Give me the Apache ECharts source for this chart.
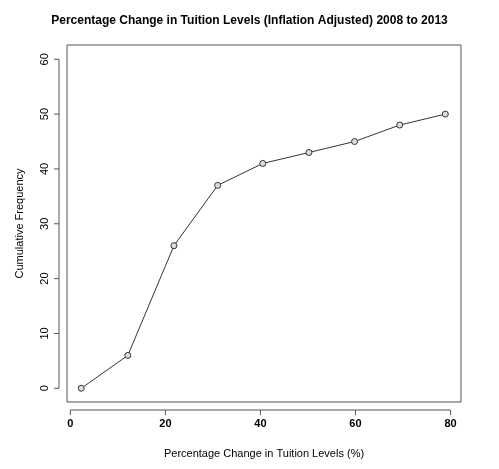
<!DOCTYPE html><html><head><meta charset="utf-8"><script src="https://cdn.jsdelivr.net/npm/echarts@6/dist/echarts.min.js"></script></head><body style="margin:0;background:#fff"><div id="c" style="width:499px;height:469px"></div><script>
const xVals=[2.3,12.1,21.8,31,40.5,50.2,59.8,69.3,78.9];
const yVals=[0,6,26,37,41,43,45,48,50];
const xTicks=[0,20,40,60,80];
const yTicks=[0,10,20,30,40,50,60];
const F='Liberation Sans, Arial, sans-serif';
const chart=echarts.init(document.getElementById('c'));
chart.setOption({animation:false,
title:{text:'Percentage Change in Tuition Levels (Inflation Adjusted) 2008 to 2013',left:'center',top:10,textStyle:{fontFamily:F,fontSize:12,fontWeight:'bold',color:'#000'}},
grid:{left:67,right:38,top:45,bottom:67,show:true,borderColor:'#555',borderWidth:1},
xAxis:{type:'value',min:-0.7,max:82.2,name:'Percentage Change in Tuition Levels (%)',nameLocation:'middle',nameGap:46,nameTextStyle:{fontFamily:F,fontSize:11,color:'#000'},
 axisLine:{show:false},splitLine:{show:false},axisTick:{show:false},axisLabel:{show:false}},
yAxis:{type:'value',min:-2.5,max:62.6,name:'Cumulative Frequency',nameLocation:'middle',nameGap:42,nameTextStyle:{fontFamily:F,fontSize:11,color:'#000'},
 axisLine:{show:false},splitLine:{show:false},axisTick:{show:false},axisLabel:{show:false}},
series:[{type:'line',data:xVals.map((x,i)=>[x,yVals[i]]),symbol:'circle',symbolSize:6,showSymbol:true,
 lineStyle:{color:'#333',width:1},itemStyle:{color:'#ddd',borderColor:'#333',borderWidth:1}}]});
const g=[];const ln=(x1,y1,x2,y2)=>g.push({type:'line',shape:{x1,y1,x2,y2},style:{stroke:'#555',lineWidth:1}});
const bY=402,lX=67;
const xp=xTicks.map(t=>chart.convertToPixel({xAxisIndex:0},t));
ln(xp[0],bY+8,xp[xp.length-1],bY+8);
xp.forEach((p,i)=>{ln(p,bY+8,p,bY+13);g.push({type:'text',x:p,y:bY+16,style:{text:String(xTicks[i]),fontFamily:F,fontSize:11,fontWeight:'bold',fill:'#000',align:'center',verticalAlign:'top'}});});
const yp=yTicks.map(t=>chart.convertToPixel({yAxisIndex:0},t));
ln(lX-8,yp[0],lX-8,yp[yp.length-1]);
yp.forEach((p,i)=>{ln(lX-8,p,lX-13,p);g.push({type:'text',x:lX-22,y:p,rotation:Math.PI/2,style:{text:String(yTicks[i]),fontFamily:F,fontSize:11,fill:'#000',align:'center',verticalAlign:'middle'}});});
chart.setOption({graphic:g});
</script></body></html>
